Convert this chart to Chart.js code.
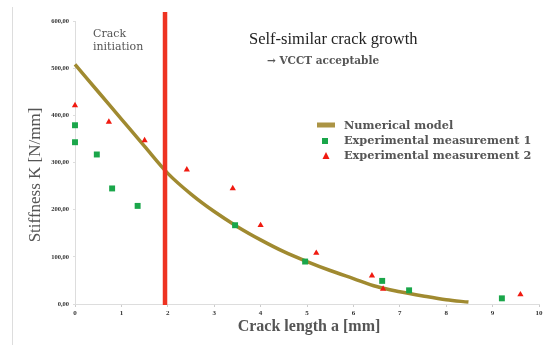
<!DOCTYPE html>
<html>
<head>
<meta charset="utf-8">
<script src="https://cdn.jsdelivr.net/npm/chart.js@4/dist/chart.umd.min.js"></script>
<style>
  body { margin: 0; background: #fff; }
  canvas { display: block; }
</style>
</head>
<body>
<canvas id="stiffChart" width="550" height="345"></canvas>
<script>
// Numerical model curve
const modelX = [0, 0.5, 1, 1.5, 2, 2.5, 3, 3.5, 4, 4.5, 5, 5.5, 6, 6.5, 7, 7.5, 8, 8.48];
const modelY = [508, 450, 392, 334, 277, 233, 196, 164, 136, 111, 90, 71, 54, 37, 26, 17, 9, 4];

// Experimental measurement 1 (green squares)
const meas1X = [0, 0, 0.47, 0.80, 1.35, 3.45, 4.96, 6.62, 7.20, 9.20];
const meas1Y = [379, 343, 317, 245, 208, 167, 90, 49, 29, 12];

// Experimental measurement 2 (red triangles)
const meas2X = [0, 0.73, 1.50, 2.41, 3.40, 4.00, 5.20, 6.40, 6.64, 9.60];
const meas2Y = [421, 386, 347, 285, 245, 167, 108, 60, 32, 20];

const crackInitX = 1.94;

const toPoints = (xs, ys) => xs.map((x, i) => ({ x: x, y: ys[i] }));

const serif = '"Liberation Serif", "DejaVu Serif", serif';
const wideSerif = '"DejaVu Serif", serif';

// annotations, legend, red marker line and frame
const overlay = {
  id: 'overlay',
  afterDatasetsDraw(chart) {
    const ctx = chart.ctx;
    const xs = chart.scales.x;
    const ys = chart.scales.y;
    ctx.save();

    // frame line on the left
    ctx.strokeStyle = '#dddddd';
    ctx.lineWidth = 1;
    ctx.beginPath();
    ctx.moveTo(12.5, 7);
    ctx.lineTo(12.5, 345);
    ctx.stroke();

    // crack initiation line
    const px = xs.getPixelForValue(crackInitX);
    ctx.strokeStyle = '#ee3322';
    ctx.lineWidth = 4.5;
    ctx.beginPath();
    ctx.moveTo(px, 12);
    ctx.lineTo(px, ys.bottom + 1);
    ctx.stroke();

    // texts
    ctx.textBaseline = 'middle';
    ctx.textAlign = 'left';
    ctx.fillStyle = '#555';
    ctx.font = '11px ' + wideSerif;
    ctx.fillText('Crack', 93, 34);
    ctx.fillText('initiation', 93, 47);

    ctx.fillStyle = '#222';
    ctx.font = '16.5px ' + serif;
    ctx.fillText('Self-similar crack growth', 249, 40);

    ctx.fillStyle = '#555';
    ctx.font = 'bold 10.5px ' + wideSerif;
    ctx.fillText('\u2192 VCCT acceptable', 267, 61);

    // legend
    ctx.fillStyle = '#ab9444';
    ctx.fillRect(317, 122.5, 18, 5);
    ctx.fillStyle = '#1aa64a';
    ctx.fillRect(322, 138, 6, 6);
    ctx.fillStyle = '#f01a10';
    ctx.beginPath();
    ctx.moveTo(326, 152);
    ctx.lineTo(329.5, 159);
    ctx.lineTo(322.5, 159);
    ctx.closePath();
    ctx.fill();

    ctx.fillStyle = '#555';
    ctx.font = 'bold 11.3px ' + wideSerif;
    ctx.fillText('Numerical model', 344, 126);
    ctx.fillText('Experimental measurement 1', 344, 141);
    ctx.fillText('Experimental measurement 2', 344, 156);

    // axis titles
    ctx.fillStyle = '#555';
    ctx.font = 'bold 16px ' + serif;
    ctx.textAlign = 'center';
    ctx.fillText('Crack length a [mm]', 309, 327);

    ctx.save();
    ctx.translate(36, 175);
    ctx.rotate(-Math.PI / 2);
    ctx.font = '17px ' + serif;
    ctx.fillText('Stiffness K [N/mm]', 0, 0);
    ctx.restore();

    ctx.restore();
  }
};

new Chart(document.getElementById('stiffChart'), {
  type: 'scatter',
  data: {
    datasets: [{
      label: 'Numerical model',
      data: toPoints(modelX, modelY),
      showLine: true,
      borderColor: '#a08a30',
      borderWidth: 3.5,
      pointRadius: 0,
      cubicInterpolationMode: 'monotone',
      clip: false,
      order: 3
    }, {
      label: 'Experimental measurement 1',
      data: toPoints(meas1X, meas1Y),
      pointStyle: 'rect',
      pointRadius: 4.2,
      backgroundColor: '#1aa64a',
      borderColor: '#1aa64a',
      borderWidth: 0,
      clip: false,
      order: 1
    }, {
      label: 'Experimental measurement 2',
      data: toPoints(meas2X, meas2Y),
      pointStyle: 'triangle',
      pointRadius: 3.6,
      backgroundColor: '#f01a10',
      borderColor: '#f01a10',
      borderWidth: 0,
      clip: false,
      order: 2
    }]
  },
  options: {
    responsive: false,
    animation: false,
    layout: { padding: { left: 0, right: 11, top: 21, bottom: 0 } },
    plugins: {
      legend: { display: false },
      tooltip: { enabled: false }
    },
    scales: {
      x: {
        type: 'linear',
        min: 0,
        max: 10,
        ticks: {
          stepSize: 1,
          color: '#333',
          font: { family: serif, size: 7, weight: 'bold' },
          padding: 2
        },
        grid: { display: true, drawOnChartArea: false, tickLength: 3, color: '#cccccc' },
        border: { display: true, color: '#dddddd' },
        afterFit: s => { s.height = 41; }
      },
      y: {
        min: 0,
        max: 600,
        ticks: {
          stepSize: 100,
          color: '#333',
          font: { family: serif, size: 6.5, weight: 'bold' },
          padding: 4,
          callback: v => v.toFixed(2).replace('.', ',')
        },
        grid: { display: true, drawOnChartArea: false, tickLength: 2, color: '#dddddd' },
        border: { display: true, color: '#dddddd' },
        afterFit: s => { s.width = 75; }
      }
    }
  },
  plugins: [overlay]
});
</script>
</body>
</html>
